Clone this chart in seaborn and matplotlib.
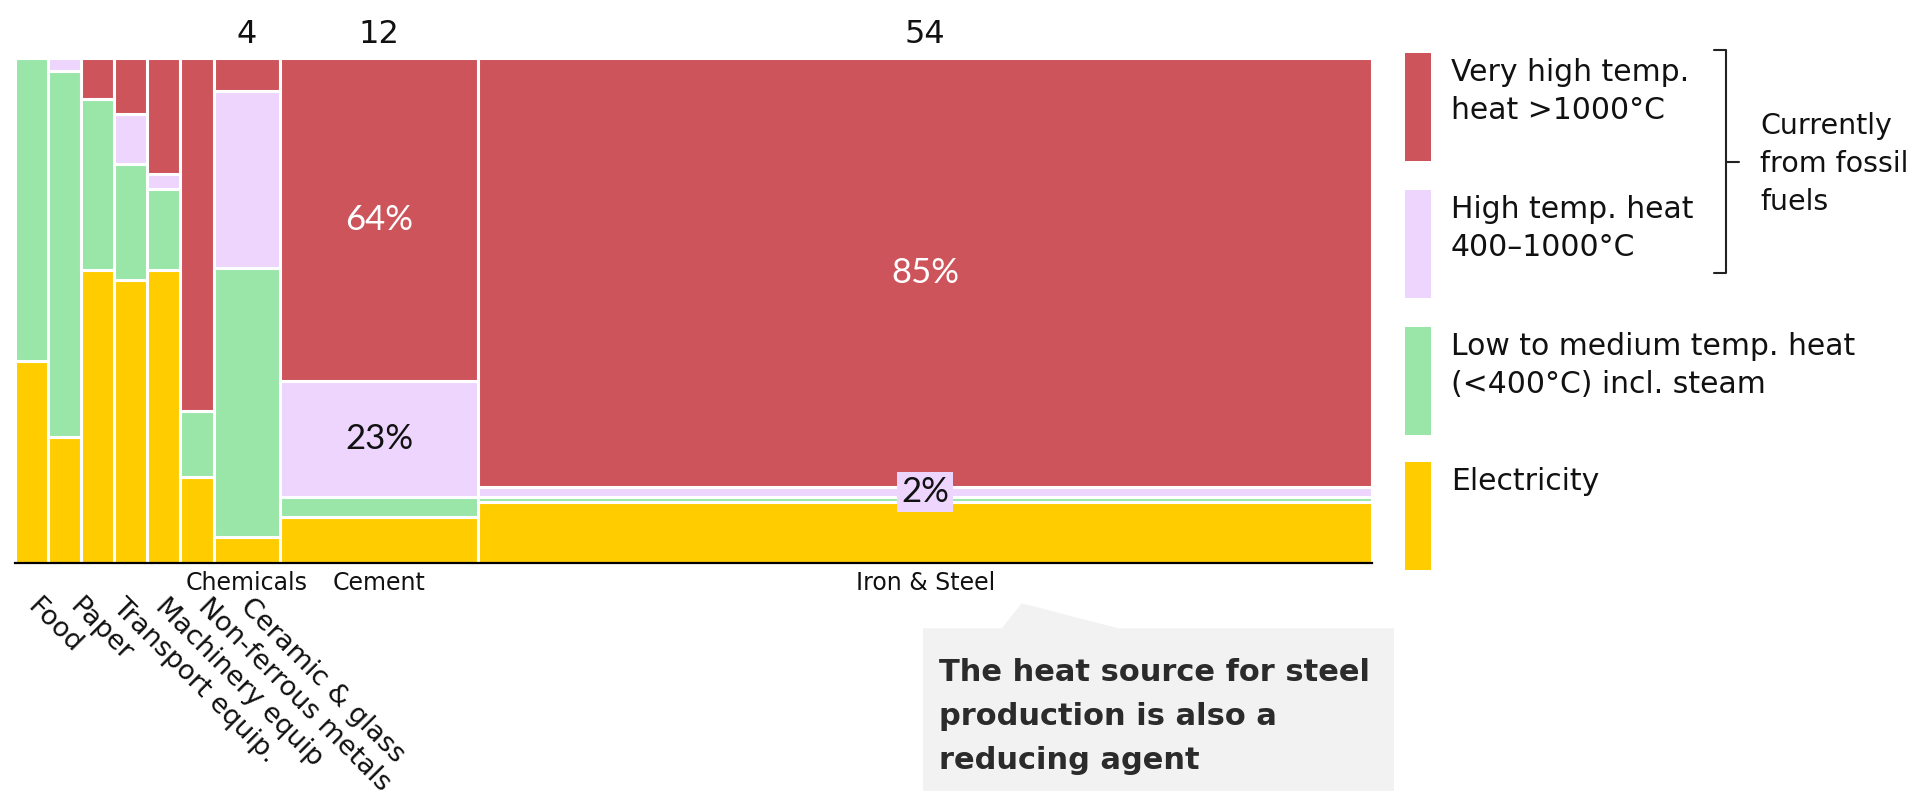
"""Marimekko chart: industrial heat demand by temperature band and sector."""

import matplotlib

matplotlib.use("Agg")
import matplotlib.pyplot as plt
import numpy as np
import pandas as pd
import seaborn as sns
from matplotlib.lines import Line2D
from matplotlib.patches import Polygon, Rectangle

# Values (shares in % of each sector's heat demand).
sectors = [
    "Food", "Paper", "Transport equip.", "Machinery equip", "Non-ferrous metals",
    "Ceramic & glass", "Chemicals", "Cement", "Iron & Steel",
]
sector_size = [2, 2, 2, 2, 2, 2, 4, 12, 54]
size_labels = ["", "", "", "", "", "", "4", "12", "54"]
electricity = [40, 25, 58, 56, 58, 17, 5, 9, 12]
low_medium = [60, 72.5, 34, 23, 16, 13, 53.5, 4, 1]
high = [0, 2.5, 0, 10, 3, 0, 35, 23, 2]
very_high = [0, 0, 8, 11, 23, 70, 6.5, 64, 85]

sources = ["Very high", "High", "Low to medium", "Electricity"]
legend_lines = [
    ["Very high temp.", "heat >1000°C"],
    ["High temp. heat", "400–1000°C"],
    ["Low to medium temp. heat", "(<400°C) incl. steam"],
    ["Electricity"],
]
bracket_lines = ["Currently", "from fossil", "fuels"]
callout_lines = ["The heat source for steel", "production is also a", "reducing agent"]
# segments that carry a percentage label: (sector, source)
labelled_cells = [("Cement", "Very high"), ("Cement", "High"),
                  ("Iron & Steel", "Very high"), ("Iron & Steel", "High")]

palette = {
    "Very high": "#CD545B",
    "High": "#EDD5FE",
    "Low to medium": "#99E6A8",
    "Electricity": "#FFCC00",
}

W, H = 1914, 791


def fx(x):
    return x / W


def fy(y):
    # pixel row measured from the top -> figure fraction
    return 1 - y / H


# Long table for seaborn: one row per sector and heat source.
edges = [0.0] + [float(v) for v in np.cumsum(sector_size)]
centers = [(a + b) / 2 for a, b in zip(edges[:-1], edges[1:])]
shares = {
    "Very high": very_high,
    "High": high,
    "Low to medium": low_medium,
    "Electricity": electricity,
}
frame = pd.concat(
    [pd.DataFrame({"sector": sectors, "center": centers, "source": src, "share": vals})
     for src, vals in shares.items()],
    ignore_index=True,
)

sns.set_theme(style="white")
plt.rcParams["font.family"] = ["DejaVu Sans"]

fig = plt.figure(figsize=(W / 100, H / 100), dpi=100)
ax = fig.add_axes([fx(15), fy(562.7), (1372 - 15) / W, 504.4 / H])

# Variable-width stacked bars: weighted histogram with one bin per sector.
# Last hue level ends up at the bottom of the stack.
sns.histplot(
    data=frame, x="center", weights="share", hue="source", hue_order=sources,
    bins=edges, multiple="stack", stat="count", palette=palette, alpha=1,
    edgecolor="white", linewidth=2.2, legend=False, ax=ax,
)
ax.set_xlim(edges[0], edges[-1])
ax.set_ylim(0, 100)
ax.set_xticks([])
ax.set_yticks([])
ax.set_xlabel("")
ax.set_ylabel("")
sns.despine(ax=ax, left=True)
ax.spines["bottom"].set_color("black")
ax.spines["bottom"].set_linewidth(1.6)

# Sector sizes above the three big bars
for cx, lab in zip(centers, size_labels):
    if lab:
        ax.annotate(lab, xy=(cx, 100), xytext=(0, 15), textcoords="offset pixels",
                    ha="center", va="baseline", fontsize=23, color="#111111")

# Sector names: narrow bars get rotated labels, wide bars horizontal ones
for i, (cx, name, size) in enumerate(zip(centers, sectors, sector_size)):
    if size <= 2:
        ax.annotate(name, xy=(cx, 0), xytext=(9 + 9.5 * i, -31), textcoords="offset pixels",
                    rotation=-45, rotation_mode="anchor", ha="left", va="top",
                    fontsize=19.5, color="#111111")
    else:
        ax.annotate(name, xy=(cx, 0), xytext=(0, -20), textcoords="offset pixels",
                    ha="center", va="center", fontsize=17, color="#111111")

# Percentage labels at segment centres
stack_order = ["Electricity", "Low to medium", "High", "Very high"]
for sector, src in labelled_cells:
    k = sectors.index(sector)
    bottoms = np.cumsum([0] + [shares[s][k] for s in stack_order])
    j = stack_order.index(src)
    mid = (bottoms[j] + bottoms[j + 1]) / 2
    value = shares[src][k]
    dark = src == "Very high"
    kw = {}
    if value < 5:
        kw["bbox"] = dict(boxstyle="square,pad=0.12", fc=palette[src], ec="none")
    ax.text(centers[k], mid, f"{value:.0f}%", ha="center", va="center",
            fontsize=25, family=["Lato", "DejaVu Sans"], fontweight="normal",
            color="white" if dark else "#111111", **kw)

# Legend drawn by hand: tall swatches with two-line labels
swatch_tops = [53.3, 190, 327, 462]
for src, top, lines in zip(sources, swatch_tops, legend_lines):
    fig.add_artist(Rectangle((fx(1405), fy(top + 107.5)), 26 / W, 107.5 / H,
                             transform=fig.transFigure, color=palette[src], lw=0))
    for n, line in enumerate(lines):
        fig.text(fx(1451), fy(top + 28 + 38 * n), line, ha="left", va="baseline",
                 fontsize=21.5, color="#111111")

# Bracket grouping the two fossil-fuel bands
bk = dict(transform=fig.transFigure, color="#222222", lw=1.5)
fig.add_artist(Line2D([fx(1714), fx(1726), fx(1726), fx(1714)],
                      [fy(50), fy(50), fy(272.7), fy(272.7)], **bk))
fig.add_artist(Line2D([fx(1726), fx(1739)], [fy(161.7), fy(161.7)], **bk))
for n, line in enumerate(bracket_lines):
    fig.text(fx(1760), fy(134 + 38 * n), line, ha="left", va="baseline",
             fontsize=20.5, color="#111111")

# Call-out box pointing at the Iron & Steel label
box = [(923, 800), (923, 628.3), (1001.7, 628.3), (1021.7, 603.3),
       (1118.3, 628.3), (1394, 628.3), (1394, 800)]
fig.add_artist(Polygon([(fx(x), fy(y)) for x, y in box], closed=True,
                       transform=fig.transFigure, fc="#F2F2F2", ec="none"))
for n, line in enumerate(callout_lines):
    fig.text(fx(939), fy(681 + 44 * n), line, ha="left", va="baseline",
             fontsize=22, fontweight="bold", color="#2B2B2B")

fig.savefig("out.png", dpi=100)
plt.close(fig)
